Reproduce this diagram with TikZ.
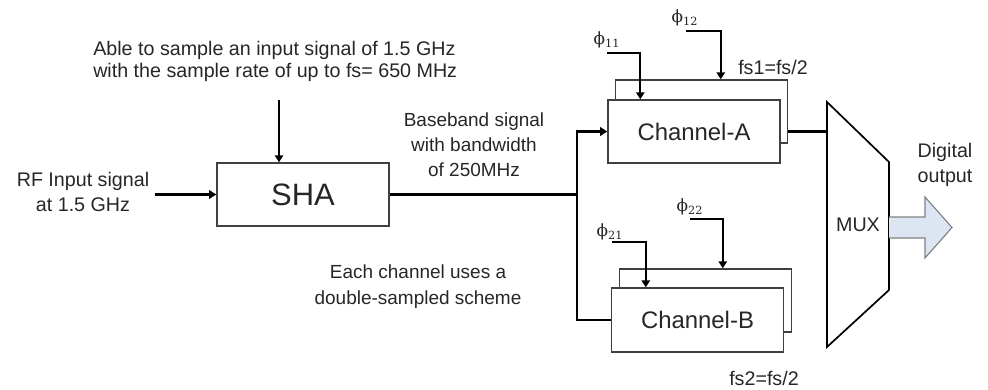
\documentclass[tikz,border=0pt]{standalone}
\usepackage{fontspec}
\setmainfont{Liberation Sans}
\newfontfamily\phifont{DejaVu Serif}
\usetikzlibrary{arrows.meta,calc}
\definecolor{txt}{HTML}{262626}
\definecolor{outfill}{HTML}{DCE6F2}
\definecolor{outline}{HTML}{808080}
\newcommand{\clk}[1]{{\phifont ϕ\textsubscript{#1}}}
\begin{document}
\begin{tikzpicture}[
    x=0.025cm, y=-0.025cm,
    box/.style={rectangle, draw=black!75, line width=1pt, fill=white, minimum width=4.3cm, minimum height=1.575cm, inner sep=0pt, text=txt, font=\fontsize{22}{24}\selectfont},
    chbox/.style={box, font=\fontsize{17}{20}\selectfont},
    label/.style={text=txt, align=center, inner sep=0pt, font=\fontsize{14}{17.7}\selectfont},
    philabel/.style={inner sep=0pt, text=txt, font=\fontsize{12}{14}\selectfont},
    line/.style={line width=1.5pt},
    arrow/.style={line, -{Triangle[width=6pt,length=5pt]}}
]
    \useasboundingbox (0,0) rectangle (988,389);

    % SHA and its inputs
    \node[box] (sha) at (303,194.5) {SHA};
    \node[label, anchor=west, align=left, font=\fontsize{14}{15.6}\selectfont] (note) at (93,61) {Able to sample an input signal of 1.5 GHz\\with the sample rate of up to fs= 650 MHz};
    \node[label] (rf) at (83,192) {RF Input signal\\at 1.5 GHz};
    \coordinate (rfin) at (155,194.5);
    \coordinate (topin) at (279,100);
    \draw[arrow] (rfin) -- (sha.west);
    \draw[arrow] (topin) -- (sha.north -| topin);

    % Baseband split
    \node[label, font=\fontsize{13.5}{17.7}\selectfont] (bb) at (474,145) {Baseband signal\\with bandwidth\\of 250MHz};
    \node[label, font=\fontsize{13.5}{19}\selectfont] (each) at (418,286.5) {Each channel uses a\\double-sampled scheme};
    \coordinate (split) at (577,194.5);

    % Channel A
    \node[box] (chAback) at (701.5,111.5) {};
    \node[chbox] (chA) at (694,131.5) {Channel-A};
    \node[philabel] (p11) at (607,40) {\clk{11}};
    \node[philabel] (p12) at (685,18) {\clk{12}};
    \node[label] (fs1) at (773,67) {fs1=fs/2};
    \coordinate (p11s) at (607,53);
    \coordinate (p12s) at (686,31);

    % Channel B
    \node[box] (chBback) at (705.5,300.5) {};
    \node[chbox, minimum height=1.6cm] (chB) at (697.5,320) {Channel-B};
    \node[philabel] (p21) at (610,232) {\clk{21}};
    \node[philabel] (p22) at (690,207) {\clk{22}};
    \node[label] (fs2) at (764,378) {fs2=fs/2};
    \coordinate (p21s) at (612,242);
    \coordinate (p22s) at (690,219);

    % MUX
    \coordinate (muxTL) at (827,102);
    \coordinate (muxTR) at (889,162);
    \coordinate (muxBR) at (889,290);
    \coordinate (muxBL) at (827,347);
    \draw[line width=1.2pt] (muxTL) -- (muxTR) -- (muxBR) -- (muxBL) -- cycle;
    \node[label] (mux) at (858,225) {MUX};
    \node[label] (dout) at (945,165) {Digital\\output};

    % Digital output arrow
    \draw[draw=outline, fill=outfill, line width=0.8pt] (889,217) -- (925,217) -- (925,197) -- (952,227.5) -- (925,258) -- (925,238) -- (889,238);

    % Arrows
    \draw[line] (sha.east) -- (split);
    \draw[arrow] (split) |- (chA.west);
    \draw[line] (split) |- (chB.west);

    \draw[arrow] (p11s) -| ($(chA.north west)+(33,0)$);
    \draw[arrow] (p12s) -| ($(chAback.north west)+(106,0)$);
    \draw[arrow] (p21s) -| ($(chB.north west)+(35,0)$);
    \draw[arrow] (p22s) -| ($(chBback.north west)+(104,0)$);

    \draw[line] (chA.east -| chAback.east) -- (chA.east -| muxTL);
    \draw[line] ($(chBback.east)+(0,4.5)$) -- ($(chBback.east)+(0,4.5)$ -| muxTL);

\end{tikzpicture}
\end{document}
